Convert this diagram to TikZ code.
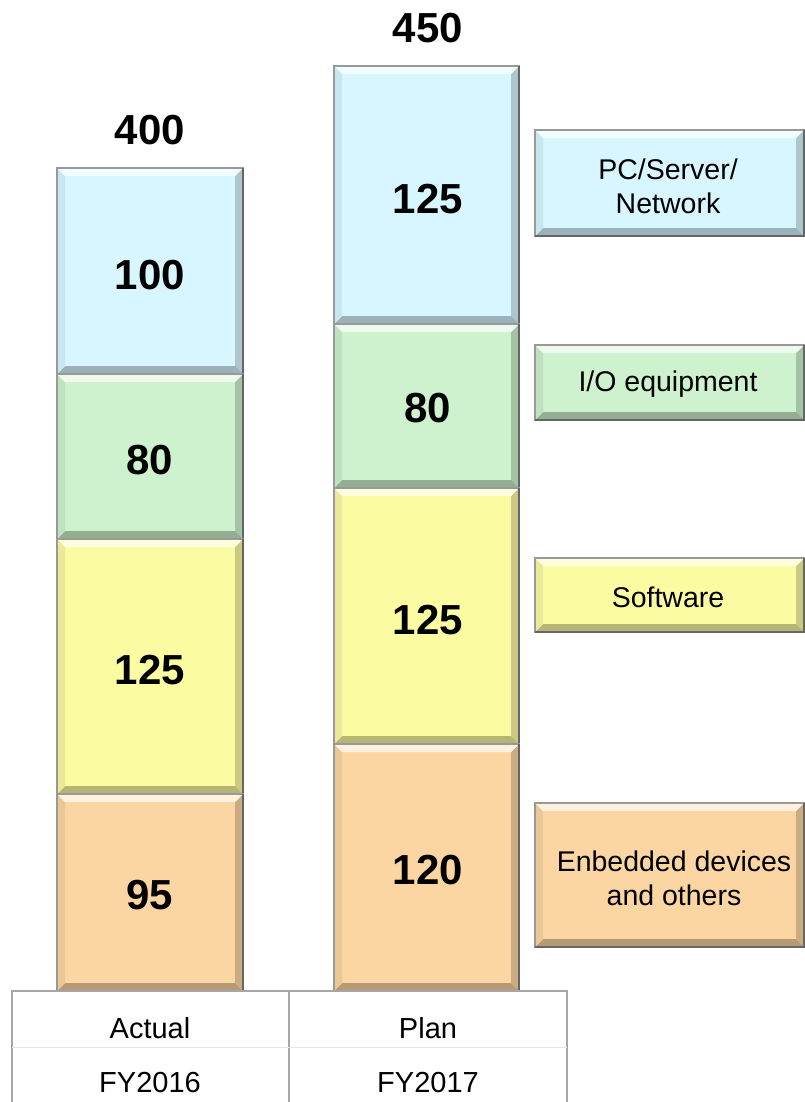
\documentclass[tikz,border=0pt]{standalone}
\usepackage{fontspec}
\setmainfont{Liberation Sans}
\definecolor{cblue}{HTML}{D8F6FF}
\definecolor{cgreen}{HTML}{CDF2CD}
\definecolor{cyellow}{HTML}{FBFBA2}
\definecolor{corange}{HTML}{FCD6A2}
\definecolor{tline}{HTML}{A6A6A6}
\newcommand\bevbox[5]{%
  \fill[#5] (#1,#2) rectangle (#3,#4);
  \fill[#5!80!black] (#3,#2) -- (#3,#4) -- (#3-8,#4-8) -- (#3-8,#2+8) -- cycle;
  \fill[#5!72!black] (#1,#4) -- (#3,#4) -- (#3-8,#4-8) -- (#1+8,#4-8) -- cycle;
  \fill[#5!93!black] (#1,#2) -- (#1,#4) -- (#1+8,#4-8) -- (#1+8,#2+8) -- cycle;
  \fill[#5!35!white] (#1,#2) -- (#3,#2) -- (#3-8,#2+8) -- (#1+8,#2+8) -- cycle;
  \draw[gray!80, line width=1.2pt] (#1,#2) rectangle (#3,#4);
  \draw[black!60, line width=1.5pt] (#3,#2) -- (#3,#4) -- (#1,#4);
}
\begin{document}
\begin{tikzpicture}[x=1pt,y=-1pt,
  num/.style={font=\bfseries\fontsize{42}{46}\selectfont},
  leg/.style={font=\fontsize{28.5}{34}\selectfont, align=center},
  axis/.style={font=\fontsize{29}{33}\selectfont}]
\useasboundingbox (0,0) rectangle (804,1102);
% left bar
\bevbox{57}{168}{243}{374}{cblue}
\bevbox{57}{374}{243}{539}{cgreen}
\bevbox{57}{539}{243}{794}{cyellow}
\bevbox{57}{794}{243}{991}{corange}
% right bar
\bevbox{334}{66}{519}{324}{cblue}
\bevbox{334}{324}{519}{488}{cgreen}
\bevbox{334}{488}{519}{744}{cyellow}
\bevbox{334}{744}{519}{991}{corange}
% legend boxes
\bevbox{535}{130}{804}{236}{cblue}
\bevbox{535}{345}{804}{420}{cgreen}
\bevbox{535}{558}{804}{632}{cyellow}
\bevbox{535}{803}{804}{947}{corange}
% numbers
\node[num] (t1) at (150,130) {400};
\node[num] (t2) at (428,28) {450};
\node[num] (a1) at (150,275) {100};
\node[num] (a2) at (150,460) {80};
\node[num] (a3) at (150,670) {125};
\node[num] (a4) at (150,895) {95};
\node[num] (b1) at (428,199) {125};
\node[num] (b2) at (428,408) {80};
\node[num] (b3) at (428,620) {125};
\node[num] (b4) at (428,870) {120};
% legend text
\node[leg] (l1) at (668,186) {PC/Server/\\Network};
\node[leg] (l2) at (668,384) {I/O equipment};
\node[leg] (l3) at (668,597) {Software};
\node[leg] (l4) at (674,878) {Enbedded devices\\and others};
% table
\draw[tline, line width=1.2pt] (12,1102) -- (12,991) -- (567,991) -- (567,1102);
\draw[tline, line width=1.2pt] (289,991) -- (289,1102);
\draw[gray!20, line width=0.8pt] (12,1047) -- (567,1047);
\node[axis] (x1) at (150,1028) {Actual};
\node[axis] (x2) at (150,1083) {FY2016};
\node[axis] (y1) at (428,1028) {Plan};
\node[axis] (y2) at (428,1083) {FY2017};
\end{tikzpicture}
\end{document}
